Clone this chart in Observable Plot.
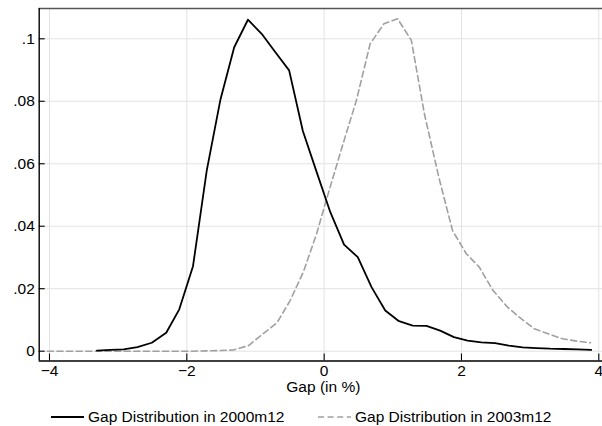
<!DOCTYPE html>
<html>
<head>
<meta charset="utf-8">
<script src="https://cdn.jsdelivr.net/npm/d3@7"></script>
<script src="https://cdn.jsdelivr.net/npm/@observablehq/plot@0.6"></script>
<style>
  html, body { margin: 0; padding: 0; background: #fff; }
  #wrap { position: relative; width: 602px; height: 426px; font-family: "Liberation Sans", Arial, Helvetica, sans-serif; }
  #legend { position: absolute; left: 0; top: 400px; width: 602px; height: 26px; font-size: 15.5px; color: #000; }
  .item { position: absolute; top: 0; height: 26px; display: flex; align-items: center; white-space: nowrap; }
  .item svg { margin-right: 4px; }
</style>
</head>
<body>
<div id="wrap"></div>
<script>
// Series 1: Gap Distribution in 2000m12 (solid black)
const gap2000 = [-3.31, -3.11, -2.92, -2.72, -2.51, -2.30, -2.11, -1.91, -1.71, -1.51, -1.31, -1.11, -0.91, -0.71, -0.51, -0.31, -0.11, 0.09, 0.29, 0.49, 0.69, 0.89, 1.09, 1.29, 1.49, 1.69, 1.89, 2.09, 2.29, 2.49, 2.69, 2.89, 3.09, 3.29, 3.49, 3.69, 3.89];
const dens2000 = [0.0002, 0.0004, 0.0006, 0.0013, 0.0027, 0.0059, 0.0134, 0.0272, 0.0578, 0.0806, 0.0973, 0.1061, 0.1016, 0.0957, 0.0899, 0.0705, 0.0574, 0.0445, 0.0341, 0.0301, 0.0205, 0.0130, 0.0096, 0.0082, 0.0081, 0.0066, 0.0045, 0.0034, 0.0028, 0.0026, 0.0018, 0.0012, 0.0010, 0.0008, 0.0007, 0.0006, 0.0004];

// Series 2: Gap Distribution in 2003m12 (dashed grey)
const gap2003 = [-4.03, -3.92, -3.72, -3.52, -3.32, -3.12, -2.92, -2.72, -2.52, -2.32, -2.12, -1.92, -1.72, -1.52, -1.32, -1.10, -0.89, -0.69, -0.50, -0.30, -0.11, 0.08, 0.27, 0.47, 0.67, 0.87, 1.07, 1.27, 1.46, 1.67, 1.87, 2.07, 2.26, 2.46, 2.67, 2.87, 3.06, 3.26, 3.47, 3.68, 3.88];
const dens2003 = [0, 0, 0, 0, 0, 0, 0, 0, 0, 0, 0, 0, 0.0001, 0.0002, 0.0004, 0.0018, 0.0056, 0.0090, 0.0160, 0.0255, 0.0376, 0.0520, 0.0660, 0.0803, 0.0984, 0.1048, 0.1064, 0.0995, 0.0760, 0.0557, 0.0386, 0.0312, 0.0269, 0.0194, 0.0141, 0.0104, 0.0072, 0.0056, 0.0040, 0.0032, 0.0027];

const xTicks = [-4, -2, 0, 2, 4];
const yTicks = [0, 0.02, 0.04, 0.06, 0.08, 0.1];
const yTickLabels = ["0", ".02", ".04", ".06", ".08", ".1"];
const xTickLabels = ["\u22124", "\u22122", "0", "2", "4"];
const xTitle = "Gap (in %)";
const seriesNames = ["Gap Distribution in 2000m12", "Gap Distribution in 2003m12"];

const s1 = gap2000.map((x, i) => ({x, y: dens2000[i]}));
const s2 = gap2003.map((x, i) => ({x, y: dens2003[i]}));

const W = 602, H = 400;
const mL = 38.7, mR = 0, mT = 8, mB = 39.5;
const xDomain = [-4.15, 4.054];
const yDomain = [-0.00314, 0.1097];
const innerW = W - mL - mR, innerH = H - mT - mB;
const FS = 15.5;

const chart = Plot.plot({
  width: W, height: H,
  marginLeft: mL, marginRight: mR, marginTop: mT, marginBottom: mB,
  style: {fontFamily: '"Liberation Sans", Arial, Helvetica, sans-serif', fontSize: FS + "px", background: "#fff", color: "#000"},
  x: {domain: xDomain},
  y: {domain: yDomain},
  marks: [
    // grid
    Plot.ruleX(xTicks, {stroke: "#e3e3e3", strokeWidth: 1}),
    Plot.ruleY(yTicks, {stroke: "#e3e3e3", strokeWidth: 1}),
    // inward ticks
    Plot.ruleX(xTicks, {stroke: "#000", strokeWidth: 1.1, insetTop: innerH - 7}),
    Plot.ruleY(yTicks, {stroke: "#000", strokeWidth: 1.1, insetRight: innerW - 6}),
    // axes lines / top border
    Plot.ruleY([yDomain[1]], {stroke: "#555", strokeWidth: 1.6}),
    Plot.ruleX([xDomain[0]], {stroke: "#000", strokeWidth: 1.4}),
    Plot.ruleY([yDomain[0]], {stroke: "#000", strokeWidth: 1.4}),
    // tick labels
    Plot.axisX(xTicks, {tickSize: 0, tickPadding: 3.5, tickFormat: (d, i) => xTickLabels[i], fontSize: FS, label: null}),
    Plot.axisY(yTicks, {tickSize: 0, tickPadding: 4.4, tickFormat: (d, i) => yTickLabels[i], fontSize: FS, label: null}),
    Plot.text([xTitle], {frameAnchor: "bottom", dx: 2.5, dy: 31, lineAnchor: "bottom", fontSize: FS, fill: "#000"}),
    // series
    Plot.line(s2, {x: "x", y: "y", stroke: "#a0a0a0", strokeWidth: 1.6, strokeDasharray: "6,3.6"}),
    Plot.line(s1, {x: "x", y: "y", stroke: "#000", strokeWidth: 1.8, strokeLinejoin: "round"})
  ]
});

const wrap = document.getElementById("wrap");
wrap.appendChild(chart);

const legend = document.createElement("div");
legend.id = "legend";
const items = [
  {left: 51, stroke: "#000", dash: null, width: 1.8, name: seriesNames[0]},
  {left: 318, stroke: "#a0a0a0", dash: "6,3.6", width: 1.6, name: seriesNames[1]}
];
for (const it of items) {
  const d = document.createElement("div");
  d.className = "item";
  d.style.left = it.left + "px";
  d.style.top = "4px";
  d.innerHTML = `<svg width="33" height="10"><line x1="0" y1="5" x2="33" y2="5" stroke="${it.stroke}" stroke-width="${it.width}" ${it.dash ? `stroke-dasharray="${it.dash}"` : ""}/></svg><span>${it.name}</span>`;
  legend.appendChild(d);
}
wrap.appendChild(legend);
</script>
</body>
</html>
